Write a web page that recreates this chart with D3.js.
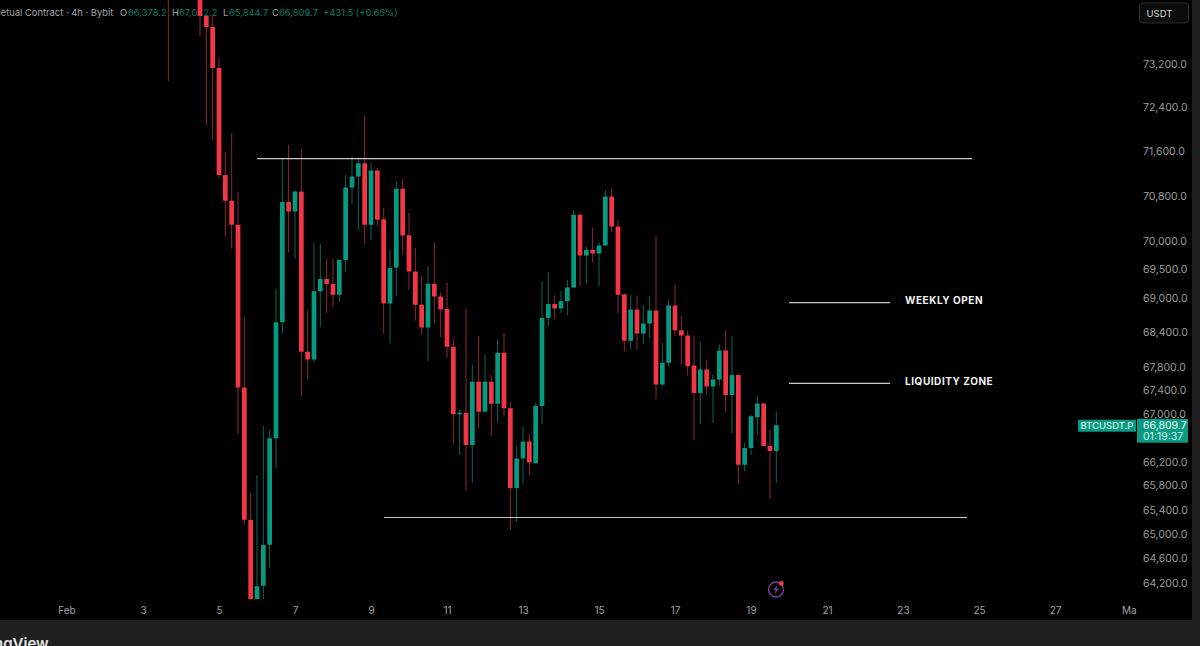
<!DOCTYPE html>
<html><head><meta charset="utf-8">
<style>html,body{margin:0;padding:0;background:#000;overflow:hidden}svg{display:block}text{font-family:Inter,"Noto Sans",sans-serif}</style>
<script src="https://cdn.jsdelivr.net/npm/d3@7/dist/d3.min.js"></script></head><body>
<svg id="c" width="1200" height="646"></svg>
<script>
// 4h candles beginning Feb 3 16:00 (null = above the visible range)
const opens=[75200,null,null,null,null,74700,74094,73888,73126,71176,70712,70285,67454,65235,63800,64154,64825,66593,68573,70689,70521,70878,68064,67932,69112,69328,69240,69054,69660,70949,71146,71387,70285,71254,70385,68898,69530,70926,70100,69461,68880,68482,69246,69024,68805,68149,66997,67025,66480,67551,67042,67551,67177,68046,67098,65759,66253,66537,66175,67137,68650,68892,68811,68937,69181,70462,69742,69842,69777,69918,70789,70254,69060,68253,68794,68379,68551,68776,67505,67875,68863,68436,68345,67830,67357,67761,67471,67590,68086,67323,67664,66146,66430,66945,67182,66463,66378.2];
const highs=[75600,null,null,null,null,74800,74100,74112,73311,71592,71936,70872,68672,65676,65974,66800,66727,69158,71470,71718,70900,71646,68782,69972,69944,69679,69679,69667,71177,71506,71483,72245,71398,71303,70581,69842,71057,71105,70503,69872,69386,69549,69972,69094,69263,68292,67081,68811,67846,68332,68017,67664,68275,68391,67211,66463,66789,66660,67194,69286,69450,69042,69112,69316,70538,70498,69900,70237,69978,70896,70926,70373,69060,69054,69036,68875,69024,70090,68218,68967,69228,68690,68436,68345,68229,67932,67675,68189,68436,68332,67664,66509,66985,67306,67182,66727,67042.2];
const lows=[72887,null,null,null,null,73720,72081,71809,71123,70072,69860,66660,65154,63700,63700,63700,64446,66091,68379,69790,69685,67306,67590,67886,68488,68737,68834,68927,69461,70653,70184,69943,70019,70267,68374,68206,69042,69754,69141,68603,68362,67898,68563,68310,67966,66504,66313,65714,65853,66756,67040,66631,66866,66958,65072,65193,65836,65974,66175,66828,68505,68632,68737,68695,69181,69199,69246,69620,69199,69918,70148,68737,68064,68103,68103,68206,68304,67250,67476,67807,68332,67846,67658,66559,66828,67335,66845,67476,67035,66672,65825,66036,66313,66648,66463,65577,65844.7];
const closes=[74600,null,null,null,null,74094,73888,73126,71176,70712,70285,67454,65235,63800,64149,64820,66593,68573,70689,70521,70878,68064,67932,69112,69328,69240,69054,69667,70949,71146,71387,70285,71254,70373,68898,69521,70926,70095,69461,68880,68482,69246,69024,68794,68149,66997,67025,66480,67551,67042,67551,67177,68046,67098,65759,66253,66537,66186,67137,68650,68892,68811,68937,69181,70462,69742,69842,69777,69918,70789,70254,69054,68253,68794,68379,68551,68776,67505,67875,68863,68436,68345,67817,67357,67761,67471,67590,68086,67323,67664,66146,66430,66963,67182,66463,66378.2,66809.7];
const priceTicks=[73200,72400,71600,70800,70000,69500,69000,68400,67800,67400,67000,66200,65800,65400,65000,64600,64200];
const dayTicks=[3,5,7,9,11,13,15,17,19,21,23,25,27];
const start=Date.UTC(2026,1,3,16);
const H4=4*3600e3;
const day=(d,h=0,m=0)=>new Date(Date.UTC(2026,1,d,h,m));
const levels=[
 {price:71470,from:day(6),to:day(24,19,36)},
 {price:65272,from:day(9,8,12),to:day(24,16,25)},
 {price:68915,from:day(20),to:day(22,15,50),label:"WEEKLY OPEN"},
 {price:67522,from:day(20),to:day(22,15,50),label:"LIQUIDITY ZONE"}];
const GREEN="#089981",RED="#f23645",GW="#0b6656",RW="#8a2a36";

const svg=d3.select("#c");
const x=d3.scaleUtc().domain([day(1),day(29)]).range([67,1131]);
const y=d3.scaleLog().domain([73200,64200]).range([64,583]);
const fmt=d3.format(",.1f");

svg.append("rect").attr("width",1200).attr("height",646).attr("fill","#000");
const defs=svg.append("defs");
defs.append("clipPath").attr("id","plot").append("rect").attr("width",1137).attr("height",599);

// header, under the candles
const hdr=svg.append("g").attr("font-size",9.4);
const hItems=[[-5,"petual Contract · 4h · Bybit","#b2b5be"],[120,"O","#b2b5be"],[128,"66,378.2",GREEN],[172,"H","#b2b5be"],[179,"67,042.2",GREEN],[223,"L","#b2b5be"],[229,"65,844.7",GREEN],[272,"C","#b2b5be"],[279,"66,809.7",GREEN],[323,"+431.5 (+0.65%)",GREEN]];
hItems.forEach(d=>hdr.append("text").attr("x",d[0]).attr("y",15.5).attr("fill",d[2]).attr("opacity",d[2]===GREEN?0.8:0.9).text(d[1]));

// candles
const rows=opens.map((o,i)=>({t:new Date(start+i*H4),o,h:highs[i],l:lows[i],c:closes[i]})).filter(d=>d.o!==null);
const g=svg.append("g").attr("clip-path","url(#plot)");
const bw=4.7;
g.selectAll("line.w").data(rows).join("line").attr("class","w")
 .attr("x1",d=>x(d.t)).attr("x2",d=>x(d.t)).attr("y1",d=>y(d.h)).attr("y2",d=>y(d.l))
 .attr("stroke",d=>d.c>=d.o?GW:RW).attr("stroke-width",1);
g.selectAll("rect.b").data(rows).join("rect").attr("class","b")
 .attr("x",d=>x(d.t)-bw/2).attr("width",bw)
 .attr("y",d=>y(Math.max(d.o,d.c))).attr("height",d=>Math.max(1.2,y(Math.min(d.o,d.c))-y(Math.max(d.o,d.c))))
 .attr("rx",0.5).attr("fill",d=>d.c>=d.o?GREEN:RED);

// drawn levels
svg.append("g").selectAll("line").data(levels).join("line")
 .attr("x1",d=>x(d.from)).attr("x2",d=>x(d.to)).attr("y1",d=>y(d.price)).attr("y2",d=>y(d.price))
 .attr("stroke","#c8c8c8").attr("stroke-width",1.2);
svg.append("g").selectAll("text").data(levels.filter(d=>d.label)).join("text")
 .attr("x",905).attr("y",d=>y(d.price)+1.5).attr("fill","#f2f2f2").attr("font-size",10).attr("font-weight",700)
 .attr("letter-spacing",0.55).text(d=>d.label);

// price axis
const ay=d3.axisRight(y).tickValues(priceTicks).tickFormat(fmt).tickSize(0).tickPadding(0);
const ga=svg.append("g").attr("transform","translate(1143,0)").call(ay);
ga.select(".domain").remove();
ga.selectAll("text").attr("fill","#9c9c9c").attr("font-size",10.5).attr("font-family","Inter,sans-serif").attr("x",0);

// time axis
const ax=d3.axisBottom(x).tickValues(dayTicks.map(d=>day(d))).tickFormat(d=>d.getUTCDate()).tickSize(0).tickPadding(0);
const gx=svg.append("g").attr("transform","translate(0,606.5)").call(ax);
gx.select(".domain").remove();
gx.selectAll("text").attr("fill","#a0a0a0").attr("font-size",10).attr("font-family","Inter,sans-serif");
[["Feb",x(day(1)),"middle"],["Ma",1122,"start"]].forEach(d=>svg.append("text").attr("x",d[1]).attr("y",614).attr("text-anchor",d[2]).attr("fill","#a0a0a0").attr("font-size",10).text(d[0]));

// chrome
svg.append("rect").attr("x",1192).attr("width",8).attr("height",646).attr("fill","#202020");
svg.append("rect").attr("y",620).attr("width",1200).attr("height",26).attr("fill","#202020");
svg.append("text").attr("x",-6).attr("y",649).attr("fill","#e8e8e8").attr("font-size",15).attr("font-weight",600).text("ngView");
svg.append("rect").attr("x",1139.5).attr("y",3).attr("width",49).attr("height",20).attr("rx",3).attr("fill","#0c0c0c").attr("stroke","#2a2a2a");
svg.append("text").attr("x",1146.5).attr("y",16.5).attr("fill","#d8d8d8").attr("font-size",9.5).text("USDT");

// last price tags
const lastY=y(closes[closes.length-1]);
svg.append("rect").attr("x",1078).attr("y",lastY-5.5).attr("width",58).attr("height",12).attr("rx",1).attr("fill",GREEN);
svg.append("text").attr("x",1107).attr("y",lastY+4).attr("text-anchor","middle").attr("fill","#eafff9").attr("font-size",9.5).text("BTCUSDT.P");
svg.append("rect").attr("x",1137).attr("y",lastY-6.5).attr("width",51).attr("height",24).attr("rx",1).attr("fill",GREEN);
svg.append("text").attr("x",1143).attr("y",lastY+3.5).attr("fill","#eafff9").attr("font-size",10.5).text(fmt(closes[closes.length-1]));
svg.append("text").attr("x",1143).attr("y",lastY+15).attr("fill","#eafff9").attr("font-size",10.5).attr("opacity",.85).text("01:19:37");

// bolt icon
const ic=svg.append("g").attr("transform","translate(776,589.5)");
ic.append("circle").attr("r",7.5).attr("fill","none").attr("stroke","#7d3f9e").attr("stroke-width",1.3);
ic.append("path").attr("d","M1.2,-4.2 L-2.8,0.6 L-0.4,0.6 L-1.2,4.2 L2.8,-0.8 L0.4,-0.8 Z").attr("fill","#7d3f9e");
ic.append("circle").attr("cx",5.3).attr("cy",-6).attr("r",2.4).attr("fill","#f23645");
</script></body></html>
